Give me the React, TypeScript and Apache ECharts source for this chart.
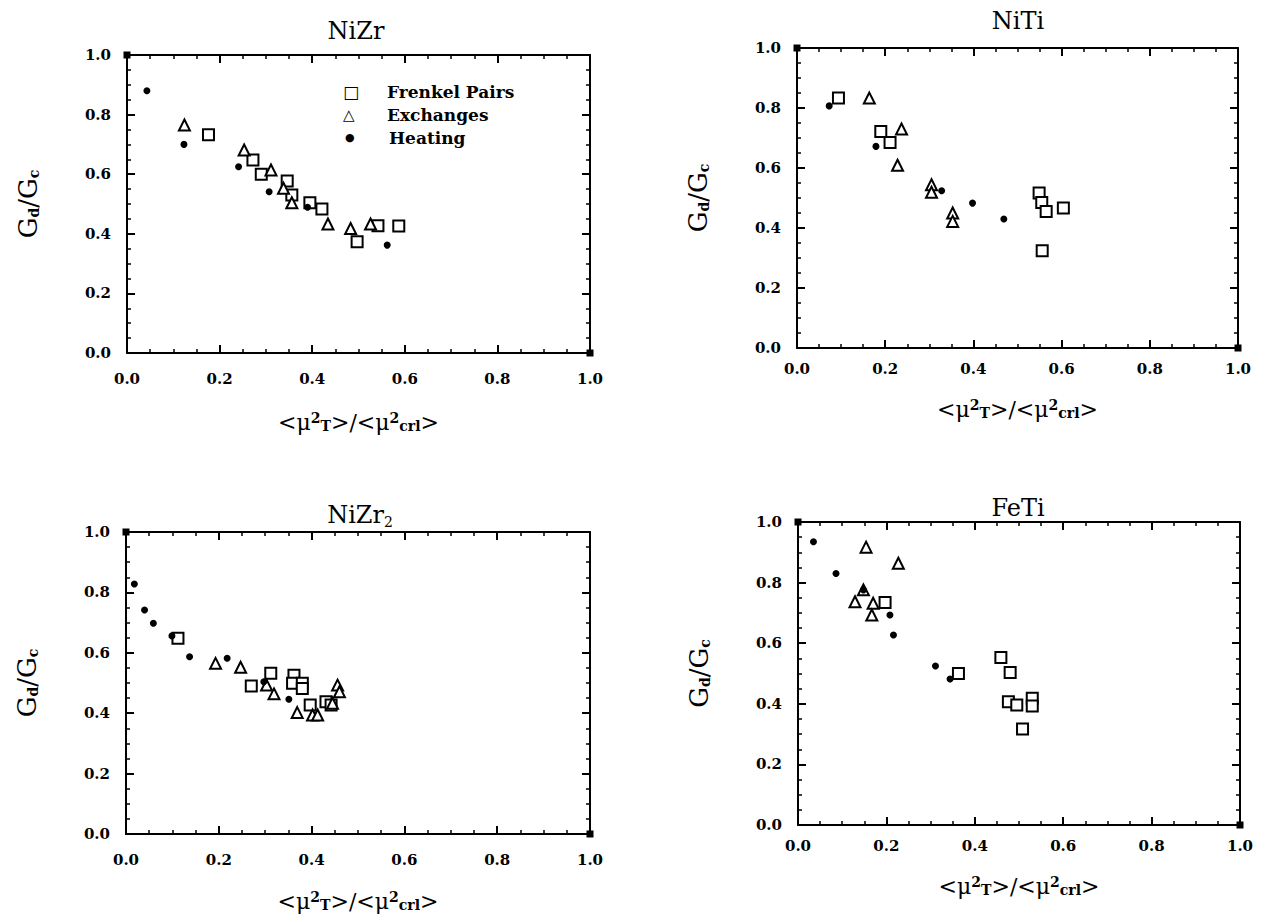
import React, { useEffect, useRef } from "react";
import * as echarts from "echarts";

// ---------- data (x = <mu^2_T>/<mu^2_crl>, y = Gd/Gc) ----------
const panelTitles = ["NiZr", "NiTi", "NiZr{sub|2}", "FeTi"];
const seriesNames = ["Frenkel Pairs", "Exchanges", "Heating"];
const axisTicks = [0, 0.2, 0.4, 0.6, 0.8, 1.0];

const nizrFrenkel = [
  [0.176, 0.732], [0.272, 0.648], [0.29, 0.6], [0.346, 0.577], [0.356, 0.53],
  [0.395, 0.504], [0.421, 0.483], [0.497, 0.373], [0.542, 0.427], [0.587, 0.426],
];
const nizrExchanges = [
  [0.124, 0.765], [0.253, 0.681], [0.311, 0.614], [0.338, 0.553], [0.356, 0.504],
  [0.434, 0.433], [0.483, 0.418], [0.526, 0.433],
];
const nizrHeating = [
  [0.043, 0.88], [0.123, 0.7], [0.241, 0.625], [0.307, 0.541], [0.39, 0.489], [0.562, 0.362],
];

const nitiFrenkel = [
  [0.094, 0.833], [0.19, 0.722], [0.211, 0.685], [0.549, 0.517], [0.555, 0.485],
  [0.565, 0.455], [0.604, 0.467], [0.556, 0.324],
];
const nitiExchanges = [
  [0.164, 0.833], [0.237, 0.73], [0.228, 0.609], [0.305, 0.544], [0.305, 0.519],
  [0.353, 0.45], [0.353, 0.422],
];
const nitiHeating = [
  [0.073, 0.807], [0.179, 0.672], [0.328, 0.524], [0.398, 0.483], [0.469, 0.43],
];

const nizr2Frenkel = [
  [0.112, 0.648], [0.27, 0.49], [0.312, 0.532], [0.362, 0.526], [0.359, 0.499],
  [0.38, 0.499], [0.38, 0.482], [0.397, 0.427], [0.431, 0.438], [0.442, 0.427],
];
const nizr2Exchanges = [
  [0.193, 0.565], [0.247, 0.552], [0.303, 0.493], [0.319, 0.464], [0.369, 0.402],
  [0.402, 0.394], [0.413, 0.394], [0.445, 0.433], [0.456, 0.493], [0.46, 0.471],
];
const nizr2Heating = [
  [0.018, 0.828], [0.04, 0.742], [0.059, 0.698], [0.099, 0.656], [0.137, 0.587],
  [0.218, 0.582], [0.297, 0.504], [0.351, 0.446],
];

const fetiFrenkel = [
  [0.197, 0.734], [0.363, 0.5], [0.459, 0.553], [0.48, 0.503], [0.476, 0.407],
  [0.495, 0.396], [0.53, 0.418], [0.53, 0.393], [0.508, 0.317],
];
const fetiExchanges = [
  [0.154, 0.917], [0.227, 0.864], [0.148, 0.776], [0.129, 0.737], [0.17, 0.732], [0.167, 0.693],
];
const fetiHeating = [
  [0.035, 0.935], [0.086, 0.83], [0.148, 0.776], [0.208, 0.693], [0.216, 0.627],
  [0.311, 0.525], [0.344, 0.482],
];

const cornerPoints = [[0, 1], [1, 0]];

const panelData = [
  [nizrFrenkel, nizrExchanges, nizrHeating],
  [nitiFrenkel, nitiExchanges, nitiHeating],
  [nizr2Frenkel, nizr2Exchanges, nizr2Heating],
  [fetiFrenkel, fetiExchanges, fetiHeating],
];

// ---------- layout ----------
const grids = [
  { left: 127, top: 55, width: 463, height: 298 },
  { left: 797, top: 48, width: 441, height: 300 },
  { left: 126, top: 532, width: 464, height: 302 },
  { left: 798, top: 522, width: 442, height: 303 },
];
const panelLayout = [
  { xLabelMargin: 18, xNameGap: 58, titleX: 356, titleY: 31 },
  { xLabelMargin: 13, xNameGap: 50, titleX: 1018, titleY: 21 },
  { xLabelMargin: 18, xNameGap: 56, titleX: 360, titleY: 515 },
  { xLabelMargin: 13, xNameGap: 50, titleX: 1018, titleY: 508 },
];

const SERIF = "'DejaVu Serif', 'Liberation Serif', serif";
const SYMBOL_FONT = "'DejaVu Sans', sans-serif";

export default function App() {
  const ref = useRef<HTMLDivElement>(null);

  useEffect(() => {
    if (!ref.current) return;
    const chart = echarts.init(ref.current, undefined, { renderer: "svg" });

    const labelStyle = (margin: number) => ({
      fontFamily: SERIF,
      fontWeight: "bold",
      fontSize: 15,
      color: "#000",
      margin,
      formatter: (v: number) => v.toFixed(1),
    });

    const baseAxis = (gi: number) => ({
      type: "value",
      gridIndex: gi,
      z: 10,
      min: axisTicks[0],
      max: axisTicks[axisTicks.length - 1],
      interval: 0.2,
      splitLine: { show: false },
      axisLine: { show: true, onZero: false, lineStyle: { color: "#000", width: 2 } },
      axisTick: { show: true, inside: true, length: 8, lineStyle: { color: "#000", width: 2 } },
      minorTick: { show: true, splitNumber: 4, length: 4, lineStyle: { color: "#000", width: 1.5 } },
    });

    const xAxis: any[] = [];
    const yAxis: any[] = [];
    const series: any[] = [];

    grids.forEach((_, i) => {
      const p = panelLayout[i];
      xAxis.push({
        ...baseAxis(i),
        position: "bottom",
        axisLabel: labelStyle(p.xLabelMargin),
        name: "<μ{sup|2}{sub|T}>/<μ{sup|2}{sub|crl}>",
        nameLocation: "middle",
        nameGap: p.xNameGap,
        nameTextStyle: {
          fontFamily: SERIF,
          fontSize: 22,
          color: "#000",
          rich: {
            sup: { fontFamily: SERIF, fontSize: 14, fontWeight: "bold", color: "#000", verticalAlign: "top" },
            sub: { fontFamily: SERIF, fontSize: 14, fontWeight: "bold", color: "#000", verticalAlign: "bottom" },
          },
        },
      });
      xAxis.push({ ...baseAxis(i), position: "top", axisLabel: { show: false } });
      yAxis.push({
        ...baseAxis(i),
        position: "left",
        axisLabel: labelStyle(16),
        name: "G{sub|d}/G{sub|c}",
        nameLocation: "middle",
        nameGap: 86,
        nameTextStyle: {
          fontFamily: SERIF,
          fontSize: 26,
          color: "#000",
          rich: {
            sub: { fontFamily: SERIF, fontSize: 14, fontWeight: "bold", color: "#000", verticalAlign: "bottom" },
          },
        },
      });
      yAxis.push({ ...baseAxis(i), position: "right", axisLabel: { show: false } });

      const [fp, ex, he] = panelData[i];
      series.push({
        name: seriesNames[0],
        type: "scatter",
        xAxisIndex: 2 * i,
        yAxisIndex: 2 * i,
        z: 12,
        symbol: "rect",
        symbolSize: 11,
        itemStyle: { color: "#fff", borderColor: "#000", borderWidth: 2, opacity: 1 },
        data: fp,
      });
      series.push({
        name: seriesNames[1],
        type: "scatter",
        xAxisIndex: 2 * i,
        yAxisIndex: 2 * i,
        z: 12,
        symbol: "triangle",
        symbolSize: 11,
        itemStyle: { color: "#fff", borderColor: "#000", borderWidth: 2, opacity: 1 },
        data: ex,
      });
      series.push({
        name: seriesNames[2],
        type: "scatter",
        xAxisIndex: 2 * i,
        yAxisIndex: 2 * i,
        z: 13,
        symbol: "circle",
        symbolSize: 7,
        itemStyle: { color: "#000", opacity: 1 },
        data: he,
      });
      series.push({
        name: "corner",
        type: "scatter",
        xAxisIndex: 2 * i,
        yAxisIndex: 2 * i,
        z: 14,
        symbol: "rect",
        symbolSize: 7,
        itemStyle: { color: "#000", opacity: 1 },
        data: cornerPoints,
      });
    });

    const titles: any[] = panelLayout.map((p, i) => ({
      text: panelTitles[i],
      left: p.titleX,
      top: p.titleY - 14,
      textAlign: "center",
      padding: 0,
      textStyle: {
        fontFamily: SERIF,
        fontWeight: "normal",
        fontSize: 24,
        lineHeight: 28,
        color: "#000",
        rich: {
          sub: { fontFamily: SERIF, fontSize: 14, color: "#000", verticalAlign: "bottom", lineHeight: 28, padding: [12, 0, 0, 0] },
        },
      },
    }));

    // legend drawn as a text block in the NiZr panel
    titles.push({
      text: [
        `{sq|□}{t|${seriesNames[0]}}`,
        `{tri|△}{t|${seriesNames[1]}}`,
        `{dot|●}{t|${seriesNames[2]}}`,
      ].join("\n"),
      left: 343,
      top: 80,
      padding: 0,
      textStyle: {
        fontFamily: SERIF,
        fontSize: 17,
        lineHeight: 23,
        color: "#000",
        rich: {
          sq: { fontFamily: SYMBOL_FONT, fontSize: 17, color: "#000", width: 44, lineHeight: 23 },
          tri: { fontFamily: SYMBOL_FONT, fontSize: 15, color: "#000", width: 44, lineHeight: 23 },
          dot: { fontFamily: SYMBOL_FONT, fontSize: 11, color: "#000", width: 44, lineHeight: 23, padding: [0, 0, 0, 2] },
          t: { fontFamily: SERIF, fontWeight: "bold", fontSize: 17, color: "#000", lineHeight: 23 },
        },
      },
    });

    chart.setOption({
      animation: false,
      grid: grids,
      title: titles,
      xAxis,
      yAxis,
      series,
    });

    return () => chart.dispose();
  }, []);

  return (
    <div
      ref={ref}
      style={{ position: "fixed", left: 0, top: 0, width: 1270, height: 920, background: "#fff" }}
    />
  );
}
